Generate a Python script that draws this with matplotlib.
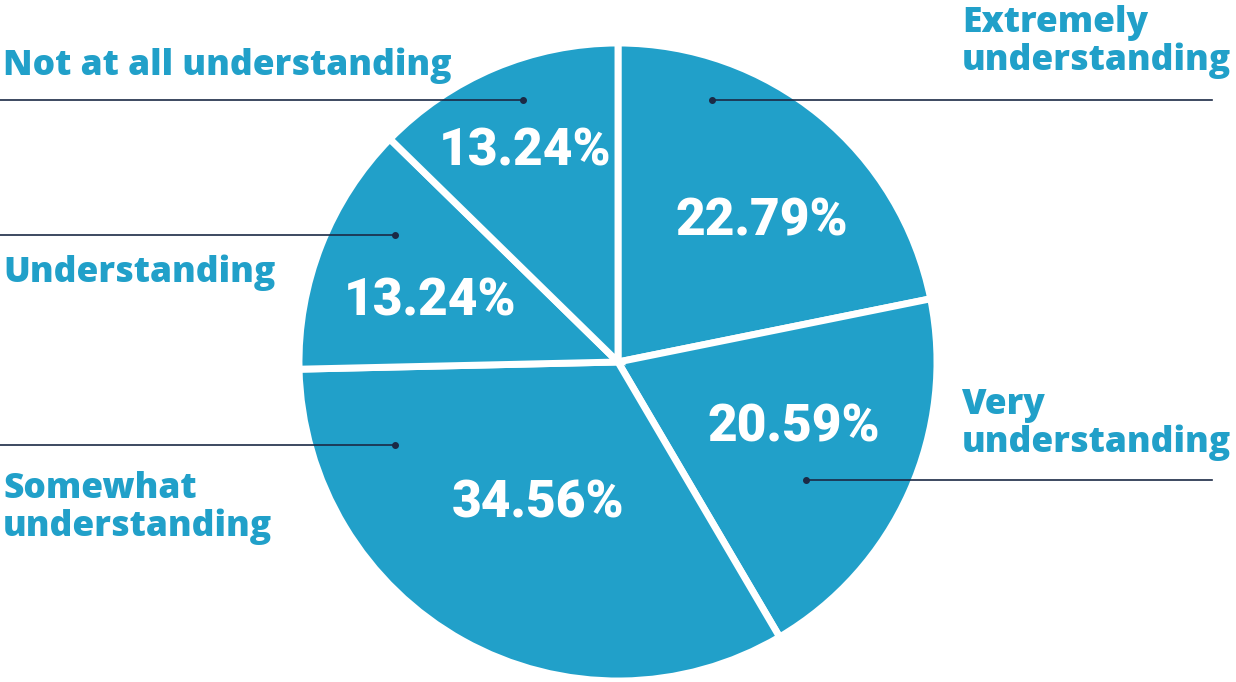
import matplotlib.pyplot as plt

# 数据
categories = ["Extremely\nunderstanding", "Very\nunderstanding", "Somewhat\nunderstanding",
              "Understanding", "Not at all understanding"]
shares = [22.79, 20.59, 34.56, 13.24, 13.24]
pct_labels = ["22.79%", "20.59%", "34.56%", "13.24%", "13.24%"]

BLUE = "#21a0c9"
NAVY = "#1b2a45"
W, H = 1236, 682

fig = plt.figure(figsize=(W / 100, H / 100), dpi=100)
ax = fig.add_axes([0, 0, 1, 1])

cx, cy, r = 618, H - 362, 319
ax.pie(shares, center=(cx, cy), radius=r, startangle=90, counterclock=False,
       colors=[BLUE] * len(shares),
       wedgeprops=dict(edgecolor="white", linewidth=5), frame=True)
ax.set_xlim(0, W)
ax.set_ylim(0, H)
ax.set_aspect("equal")
ax.axis("off")

# 百分比标签位置（像素）
pct_pos = [(762, 222), (794, 428), (538, 503), (430, 302), (525, 152)]
for (x, y), t in zip(pct_pos, pct_labels):
    ax.text(x, H - y, t, color="white", fontsize=37, fontweight=900,
            family="Roboto", ha="center", va="center")

# 引线 + 类别标签
lines = [((712, 1212), 100), ((806, 1212), 480), ((0, 395), 445), ((0, 395), 235), ((0, 523), 100)]
dots = [712, 806, 395, 395, 523]
label_pos = [(962, 42, "left"), (962, 424, "left"), (3, 508, "left"), (3, 273, "left"), (3, 66, "left")]
for (xs, y), dx, (lx, ly, ha), name in zip(lines, dots, label_pos, categories):
    ax.plot(xs, [H - y, H - y], color=NAVY, lw=1.2)
    ax.plot(dx, H - y, "o", color=NAVY, ms=4)
    ax.text(lx, H - ly, name, color=BLUE, fontsize=25.5, fontweight=800,
            family="Open Sans", ha=ha, va="center", linespacing=1.08)

plt.savefig("out.png", dpi=100)
